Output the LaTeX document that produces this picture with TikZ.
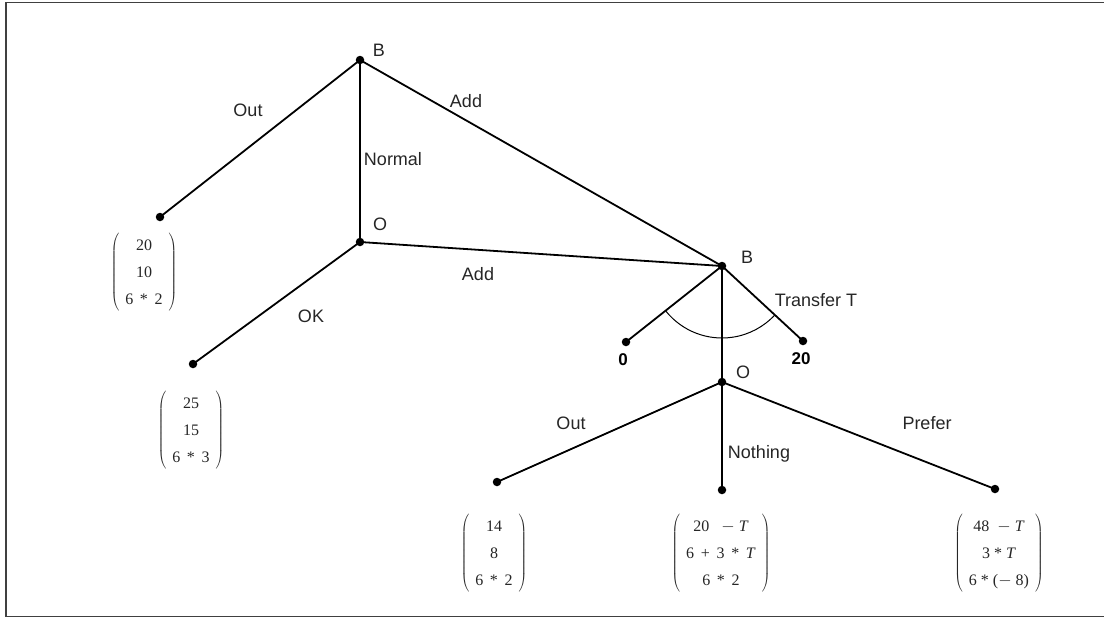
\documentclass[tikz,border=0pt]{standalone}
\usepackage{fontspec}
\setmainfont{Liberation Sans}
\newfontfamily\mfont{Liberation Serif}
\newcommand\mvec[1]{$\left(\begin{tabular}{c}#1\end{tabular}\right)$}
\begin{document}
\begin{tikzpicture}[x=1pt,y=-1pt,
  edge/.style={line width=1.8pt,black},
  dot/.style={circle,fill=black,inner sep=0pt,minimum size=8.5pt},
  lab/.style={font=\fontsize{18}{20}\selectfont,text=black!85,inner sep=0pt,anchor=base},
  blab/.style={font=\fontsize{17}{20}\selectfont\bfseries,text=black,inner sep=0pt,anchor=base},
  mat/.style={font=\mfont\fontsize{16}{27}\selectfont,inner sep=0pt,text=black!85}]
\useasboundingbox (0,0) rectangle (1104,619);
\fill[white] (0,0) rectangle (1104,619);
\draw[line width=1.5pt,black!75] (6,2.5) rectangle (1112,616.5);
% nodes
\node[dot] (B1) at (360,60) {};
\node[dot] (L1) at (160,217) {};
\node[dot] (O1) at (360,242) {};
\node[dot] (L2) at (193,364) {};
\node[dot] (B2) at (722,266) {};
\node[dot] (Z0) at (626,342) {};
\node[dot] (Z20) at (803,341) {};
\node[dot] (O2) at (722,382) {};
\node[dot] (L3) at (497,482) {};
\node[dot] (L4) at (722,490) {};
\node[dot] (L5) at (995,489) {};
% edges
\draw[edge] (B1.center) -- (L1.center);
\draw[edge] (B1.center) -- (O1.center);
\draw[edge] (B1.center) -- (B2.center);
\draw[edge] (O1.center) -- (L2.center);
\draw[edge] (O1.center) -- (B2.center);
\draw[edge] (B2.center) -- (Z0.center);
\draw[edge] (B2.center) -- (Z20.center);
\draw[edge] (B2.center) -- (O2.center);
\draw[edge] (O2.center) -- (L3.center);
\draw[edge] (O2.center) -- (L4.center);
\draw[edge] (O2.center) -- (L5.center);
\draw[line width=1pt] (B2.center) ++(219:72pt) arc[start angle=219,end angle=317,radius=72pt];
% labels
\node[lab] (tB1) at (379,56.5) {B};
\node[lab] (tOut1) at (248,116.5) {Out};
\node[lab] (tAdd1) at (466,107.5) {Add};
\node[lab] (tNormal) at (393,165.5) {Normal};
\node[lab] (tO1) at (380,230.5) {O};
\node[lab] (tAdd2) at (478,280.5) {Add};
\node[lab] (tOK) at (311,322.5) {OK};
\node[lab] (tB2) at (747,263.5) {B};
\node[lab] (tTr) at (816,306.5) {Transfer T};
\node[blab] (t0) at (623,365.5) {0};
\node[blab] (t20) at (801,364.5) {20};
\node[lab] (tO2) at (743,378.5) {O};
\node[lab] (tOut2) at (571,429.5) {Out};
\node[lab] (tNothing) at (759,458.5) {Nothing};
\node[lab] (tPrefer) at (927,429.5) {Prefer};
% vectors
\node[mat] (m1) at (144,272) {\mvec{20\\10\\6 \,*\, 2}};
\node[mat] (m2) at (191,430) {\mvec{25\\15\\6 \,*\, 3}};
\node[mat] (m3) at (494,553) {\mvec{14\\8\\6 \,*\, 2}};
\node[mat] (m4) at (721,553) {\mvec{20 \ \ $-$ \textit{T}\\6 \,+\, 3 \,*\, \textit{T}\\6 \,*\, 2}};
\node[mat] (m5) at (999,553) {\mvec{48 \ $-$ \textit{T}\\3 * \textit{T}\\6 * ($-$ 8)}};
\end{tikzpicture}
\end{document}
